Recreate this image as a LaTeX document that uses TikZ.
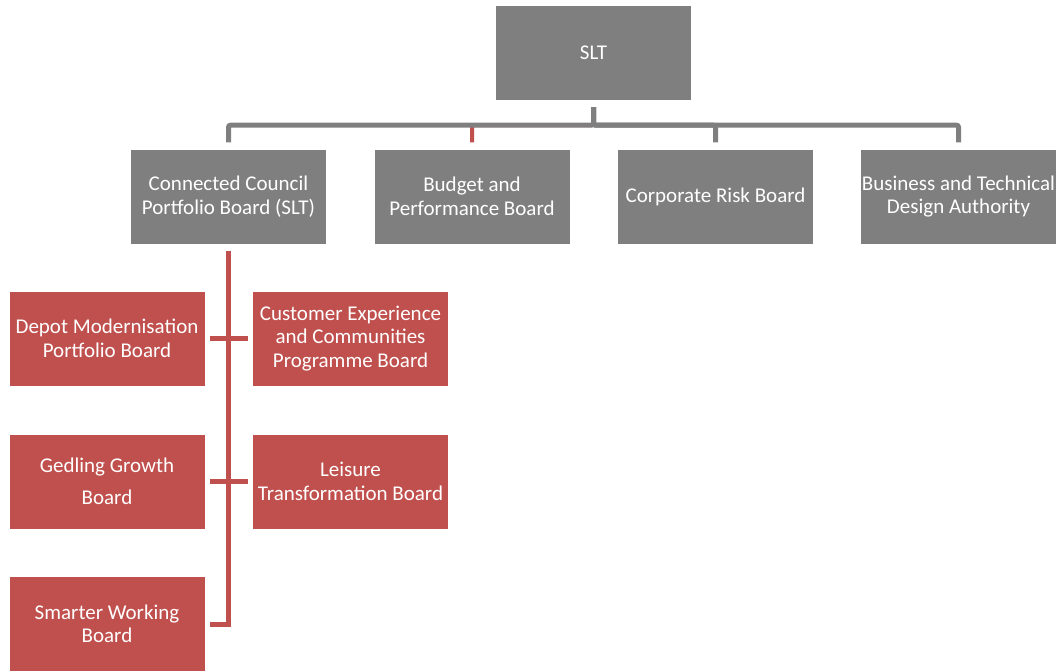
\documentclass[tikz,border=0pt]{standalone}
\usepackage{fontspec}
\setmainfont{Carlito}
\definecolor{boardgrey}{HTML}{7F7F7F}
\definecolor{boardred}{HTML}{C0504D}

\begin{document}
\begin{tikzpicture}[x=1pt, y=-1pt,
    greybox/.style={fill=boardgrey, text=white, minimum width=195pt, minimum height=94pt, inner sep=0pt, align=center, font=\fontsize{21}{23.5}\selectfont},
    redbox/.style={greybox, fill=boardred},
    greylink/.style={draw=boardgrey, line width=5pt, rounded corners=2pt, shorten <=7pt, shorten >=7pt},
    redlink/.style={draw=boardred, line width=5pt, shorten <=5pt, shorten >=5pt}]
    \useasboundingbox (0,0) rectangle (1058,670);

    % top
    \node[greybox] (slt) at (593.5,53) {SLT};

    % 1st row
    \node[greybox] (ccpb) at (228.5,196.5) {Connected Council\\Portfolio Board (SLT)};
    \node[greybox] (bpb) at (472,196.5) {Budget and\\Performance Board};
    \node[greybox] (crb) at (715.5,196.5) {Corporate Risk Board};
    \node[greybox] (btda) at (958.5,196.5) {Business and Technical\\Design Authority};

    % boards under the portfolio
    \node[redbox] (dmpb) at (107,338.5) {Depot Modernisation\\Portfolio Board};
    \node[redbox] (cecpb) at (350.5,338.5) {Customer Experience\\and Communities\\Programme Board};
    \node[redbox] (ggb) at (107,481.5) {Gedling Growth\\[9pt]Board};
    \node[redbox] (ltb) at (350.5,481.5) {Leisure\\Transformation Board};
    \node[redbox] (swb) at (107,624) {Smarter Working\\Board};

    % links from SLT
    \draw[greylink, draw=boardred, line width=4pt] (slt.south) -- ++(0,25) -| (bpb.north);
    \draw[greylink] (slt.south) -- ++(0,25) -| (ccpb.north);
    \draw[greylink] (slt.south) -- ++(0,25) -| (crb.north);
    \draw[greylink] (slt.south) -- ++(0,25) -| (btda.north);

    % links under the portfolio
    \draw[redlink, shorten <=7pt] (ccpb.south) |- (swb.east);
    \draw[redlink] (dmpb.east) -- (cecpb.west);
    \draw[redlink] (ggb.east) -- (ltb.west);
\end{tikzpicture}
\end{document}
